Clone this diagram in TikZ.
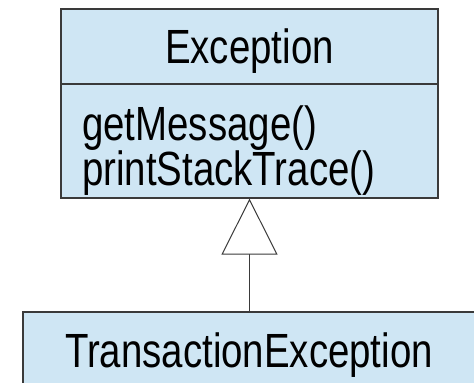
\documentclass[tikz,border=0pt]{standalone}
\usepackage{fontspec}
\setmainfont{Liberation Sans}
\usetikzlibrary{arrows.meta}
\definecolor{classfill}{HTML}{CFE6F4}
\definecolor{classline}{HTML}{3A3A3A}
\newcommand{\narrowtext}[1]{\scalebox{0.8}[1]{#1}}
\tikzset{
  classbox/.style={draw=classline, fill=classfill, line width=1.2bp, inner sep=0pt},
  umltext/.style={inner sep=0pt, font=\fontsize{48bp}{50bp}\selectfont},
  inherit/.style={draw=classline, line width=1bp,
    -{Triangle[open, length=56bp, width=56bp, fill=white]}}
}
\begin{document}
\begin{tikzpicture}[x=1bp, y=-1bp]
  \useasboundingbox (0,0) rectangle (474,382);
  % class Exception: name compartment and operations compartment
  \node[classbox, minimum width=377bp, minimum height=75bp] (exchead) at (249.5,46.5) {};
  \node[classbox, minimum width=377bp, minimum height=114bp] (excbody) at (249.5,141) {};
  \node[umltext, anchor=base] (excname) at (249.5,63) {\narrowtext{Exception}};
  \node[umltext, anchor=base west] (op1) at (82,140) {\narrowtext{getMessage()}};
  \node[umltext, anchor=base west] (op2) at (82,185) {\narrowtext{printStackTrace()}};
  % subclass TransactionException
  \node[classbox, minimum width=460bp, minimum height=90bp] (trans) at (253,357) {};
  \node[umltext, anchor=base] (transname) at (249,367) {\narrowtext{TransactionException}};
  % generalization
  \draw[inherit] (trans.north -| excbody.south) -- (excbody.south);
\end{tikzpicture}
\end{document}
